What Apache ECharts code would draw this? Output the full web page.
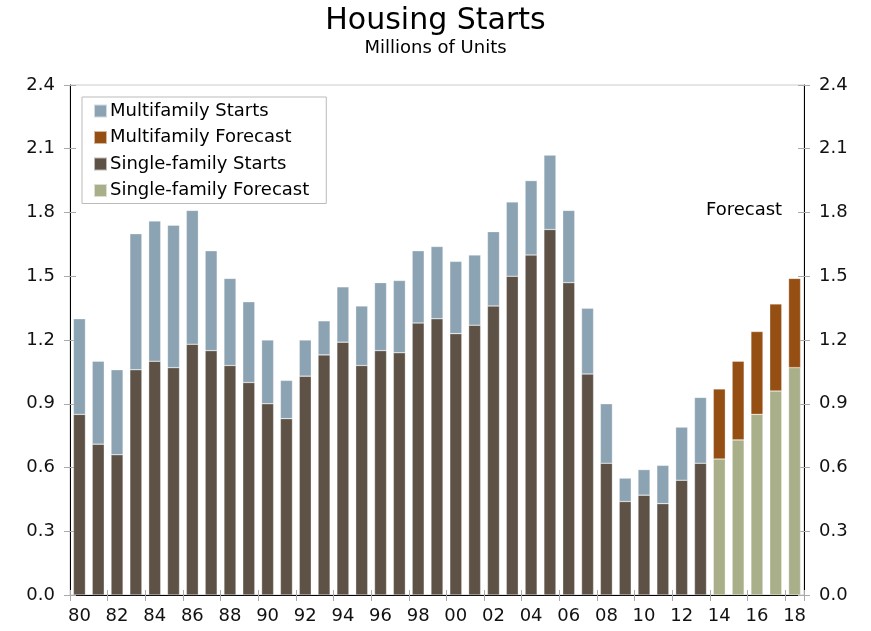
<!DOCTYPE html>
<html>
<head>
<meta charset="utf-8">
<style>
    html, body { margin: 0; padding: 0; background: #fff; }
    #chart { width: 871px; height: 631px; }
</style>
<script src="https://cdn.jsdelivr.net/npm/echarts@6/dist/echarts.min.js"></script>
</head>
<body>
<div id="chart"></div>
<script>
    // years 1980-2018, labels shown as two digits
    var years = ['80','81','82','83','84','85','86','87','88','89',
                 '90','91','92','93','94','95','96','97','98','99',
                 '00','01','02','03','04','05','06','07','08','09',
                 '10','11','12','13','14','15','16','17','18'];

    // single-family starts (actual 1980-2013), millions
    var sfStarts = [0.85, 0.71, 0.66, 1.06, 1.10, 1.07, 1.18, 1.15, 1.08, 1.00,
                    0.90, 0.83, 1.03, 1.13, 1.19, 1.08, 1.15, 1.14, 1.28, 1.30,
                    1.23, 1.27, 1.36, 1.50, 1.60, 1.72, 1.47, 1.04, 0.62, 0.44,
                    0.47, 0.43, 0.54, 0.62, null, null, null, null, null];
    // multifamily starts (actual), millions
    var mfStarts = [0.45, 0.39, 0.40, 0.64, 0.66, 0.67, 0.63, 0.47, 0.41, 0.38,
                    0.30, 0.18, 0.17, 0.16, 0.26, 0.28, 0.32, 0.34, 0.34, 0.34,
                    0.34, 0.33, 0.35, 0.35, 0.35, 0.35, 0.34, 0.31, 0.28, 0.11,
                    0.12, 0.18, 0.25, 0.31, null, null, null, null, null];
    // forecast 2014-2018
    var sfForecast = [null, null, null, null, null, null, null, null, null, null,
                      null, null, null, null, null, null, null, null, null, null,
                      null, null, null, null, null, null, null, null, null, null,
                      null, null, null, null, 0.64, 0.73, 0.85, 0.96, 1.07];
    var mfForecast = [null, null, null, null, null, null, null, null, null, null,
                      null, null, null, null, null, null, null, null, null, null,
                      null, null, null, null, null, null, null, null, null, null,
                      null, null, null, null, 0.33, 0.37, 0.39, 0.41, 0.42];

    var yTicks = [0, 0.3, 0.6, 0.9, 1.2, 1.5, 1.8, 2.1, 2.4];

    var font = 'DejaVu Sans, Verdana, sans-serif';
    var chart = echarts.init(document.getElementById('chart'));

    // labelled axis with outside ticks
    function yAxis(pos) {
        return {
            type: 'value',
            position: pos,
            min: yTicks[0],
            max: yTicks[yTicks.length - 1],
            interval: 0.3,
            axisLine: { show: true, lineStyle: { color: '#000', width: 1 } },
            axisTick: { show: true, length: 6, lineStyle: { color: '#aaa' } },
            axisLabel: {
                color: '#111', fontSize: 18, fontFamily: font, margin: 15,
                formatter: function (v) { return v.toFixed(1); }
            },
            splitLine: { show: false }
        };
    }
    // copy with inside ticks only, so ticks cross the axis line
    function yAxisInner(pos) {
        return {
            type: 'value',
            position: pos,
            min: yTicks[0],
            max: yTicks[yTicks.length - 1],
            interval: 0.3,
            axisLine: { show: false },
            axisTick: { show: true, inside: true, length: 6, lineStyle: { color: '#aaa' } },
            axisLabel: { show: false },
            splitLine: { show: false }
        };
    }

    var barStyle = function (c) {
        return { color: c, borderColor: 'rgba(255,255,255,0.6)', borderWidth: 0.5 };
    };

    var option = {
        animation: false,
        backgroundColor: '#fff',
        title: {
            text: 'Housing Starts',
            subtext: 'Millions of Units',
            left: 'center',
            top: 1,
            itemGap: 3,
            textStyle: { color: '#000', fontSize: 30, fontWeight: 'normal', fontFamily: font },
            subtextStyle: { color: '#000', fontSize: 18, fontFamily: font }
        },
        legend: {
            orient: 'vertical',
            left: 82,
            top: 97,
            padding: [5, 17, 4, 11],
            itemGap: 8.5,
            itemWidth: 13,
            itemHeight: 13,
            icon: 'rect',
            borderColor: '#bbb',
            borderWidth: 1,
            borderRadius: 0,
            backgroundColor: '#fff',
            textStyle: { color: '#000', fontSize: 18, fontFamily: font, padding: [0, 0, 0, -2] },
            data: ['Multifamily Starts', 'Multifamily Forecast', 'Single-family Starts', 'Single-family Forecast']
        },
        grid: {
            left: 70, right: 67, top: 85, bottom: 36,
            show: true, borderColor: '#ccc', borderWidth: 1
        },
        xAxis: [{
            type: 'category',
            data: years,
            boundaryGap: true,
            axisLine: { lineStyle: { color: '#000', width: 1 } },
            axisTick: { show: true, interval: 1, length: 6, lineStyle: { color: '#aaa' } },
            axisLabel: { interval: 1, color: '#111', fontSize: 18, fontFamily: font, margin: 12 }
        }, {
            type: 'category',
            data: years,
            position: 'bottom',
            boundaryGap: true,
            axisLine: { show: false },
            axisTick: { show: true, inside: true, interval: 1, length: 5, lineStyle: { color: '#aaa' } },
            axisLabel: { show: false }
        }],
        yAxis: [yAxis('left'), yAxis('right'), yAxisInner('left'), yAxisInner('right')],
        graphic: [{
            type: 'text',
            left: 706,
            top: 201,
            style: { text: 'Forecast', fill: '#000', fontSize: 18, fontFamily: font }
        }],
        series: [
            { name: 'Single-family Starts', type: 'bar', stack: 'hs', barWidth: 12,
              itemStyle: barStyle('#5E5246'), data: sfStarts },
            { name: 'Single-family Forecast', type: 'bar', stack: 'hs', barWidth: 12,
              itemStyle: barStyle('#A9AF88'), data: sfForecast },
            { name: 'Multifamily Starts', type: 'bar', stack: 'hs', barWidth: 12,
              itemStyle: barStyle('#8BA3B3'), data: mfStarts },
            { name: 'Multifamily Forecast', type: 'bar', stack: 'hs', barWidth: 12,
              itemStyle: barStyle('#964F12'), data: mfForecast }
        ]
    };

    chart.setOption(option);
</script>
</body>
</html>
